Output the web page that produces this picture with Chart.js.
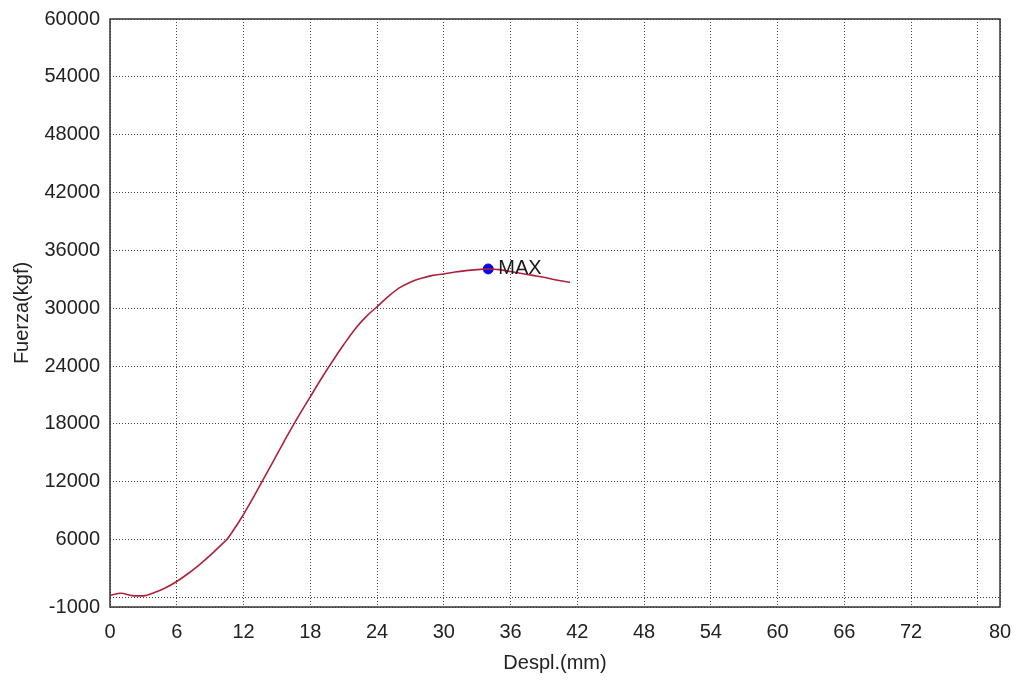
<!DOCTYPE html>
<html>
<head>
<meta charset="utf-8">
<script src="https://cdn.jsdelivr.net/npm/chart.js@4.4.1/dist/chart.umd.min.js"></script>
<style>
  html, body { margin: 0; padding: 0; background: #ffffff; }
  #wrap { width: 1016px; height: 681px; position: relative; }
</style>
</head>
<body>
<div id="wrap"><canvas id="curveChart"></canvas></div>
<script>
// --------------------------------------------------------------------------
// chart data
// --------------------------------------------------------------------------
const despl = [0, 1, 2, 3, 4, 5, 6, 7, 8, 9, 10, 10.5, 11, 12, 13, 14, 15, 16, 17, 18, 19, 20,
               21, 22, 23, 24, 25, 26, 27, 28, 29, 30, 31, 32, 33, 34, 35, 36, 37, 38, 39, 40, 41.35];
const fuerza = [200, 420, 180, 150, 500, 1000, 1650, 2450, 3350, 4350, 5450, 6000, 6800, 8600, 10600,
                12700, 14800, 16900, 18900, 20800, 22700, 24500, 26200, 27800, 29100, 30150, 31200,
                32100, 32700, 33100, 33400, 33550, 33750, 33900, 34000, 34070, 34000, 33800, 33600,
                33400, 33200, 32950, 32690];

const maxDespl = 34.0;
const maxFuerza = 34070;
const maxLabel = 'MAX';

const xTicks = [0, 6, 12, 18, 24, 30, 36, 42, 48, 54, 60, 66, 72, 78, 80];
const xHidden = [78];
const yTicks = [-1000, 0, 6000, 12000, 18000, 24000, 30000, 36000, 42000, 48000, 54000, 60000];
const yHidden = [0];

const FONT = '"Liberation Sans", Arial, sans-serif';

// frame round the plot + MAX text
const framePlugin = {
    id: 'frame',
    afterDatasetsDraw(chart) {
        const { ctx, chartArea, scales } = chart;
        ctx.save();
        ctx.strokeStyle = '#333';
        ctx.lineWidth = 1.5;
        ctx.strokeRect(chartArea.left, chartArea.top, chartArea.right - chartArea.left, chartArea.bottom - chartArea.top);
        // label next to the max point
        const px = scales.x.getPixelForValue(maxDespl);
        const py = scales.y.getPixelForValue(maxFuerza);
        ctx.fillStyle = '#1a1a1a';
        ctx.font = '20px ' + FONT;
        ctx.textBaseline = 'middle';
        ctx.fillText(maxLabel, px + 10, py);
        ctx.restore();
    }
};

const gridStyle = {
    color: '#444',
    lineWidth: 1,
    drawTicks: false
};

new Chart(document.getElementById('curveChart'), {
    type: 'scatter',
    data: {
        datasets: [
            {
                data: despl.map((d, i) => ({ x: d, y: fuerza[i] })),
                showLine: true,
                borderColor: '#ad223c',
                borderWidth: 1.6,
                pointRadius: 0,
                cubicInterpolationMode: 'monotone'
            },
            {
                data: [{ x: maxDespl, y: maxFuerza }],
                pointRadius: 5,
                pointBackgroundColor: '#0a0ae6',
                pointBorderColor: '#0a0ae6'
            }
        ]
    },
    options: {
        responsive: true,
        maintainAspectRatio: false,
        animation: false,
        layout: { padding: { top: 19, right: 16, left: 0, bottom: 0 } },
        plugins: { legend: { display: false }, tooltip: { enabled: false } },
        scales: {
            x: {
                type: 'linear',
                min: 0,
                max: 80,
                afterBuildTicks: s => { s.ticks = xTicks.map(v => ({ value: v })); },
                afterFit: s => { s.height = 74; s.paddingLeft = 0; s.paddingRight = 0; },
                grid: { ...gridStyle },
                border: { display: false, dash: [1, 2] },
                ticks: {
                    padding: 13,
                    color: '#222',
                    font: { family: FONT, size: 20 },
                    maxRotation: 0,
                    autoSkip: false,
                    callback: v => xHidden.includes(v) ? '' : v
                },
                title: {
                    display: true,
                    text: 'Despl.(mm)',
                    color: '#222',
                    font: { family: FONT, size: 20 },
                    padding: { top: 0, bottom: 6 }
                }
            },
            y: {
                type: 'linear',
                min: -1000,
                max: 60000,
                afterBuildTicks: s => { s.ticks = yTicks.map(v => ({ value: v })); },
                afterFit: s => { s.width = 110; s.paddingTop = 0; s.paddingBottom = 0; },
                grid: { ...gridStyle },
                border: { display: false, dash: [1, 2] },
                ticks: {
                    padding: 10,
                    color: '#222',
                    font: { family: FONT, size: 20 },
                    autoSkip: false,
                    callback: v => yHidden.includes(v) ? '' : v
                },
                title: {
                    display: true,
                    text: 'Fuerza(kgf)',
                    color: '#222',
                    font: { family: FONT, size: 20 },
                    padding: { top: 10, bottom: 4 }
                }
            }
        }
    },
    plugins: [framePlugin]
});
</script>
</body>
</html>
